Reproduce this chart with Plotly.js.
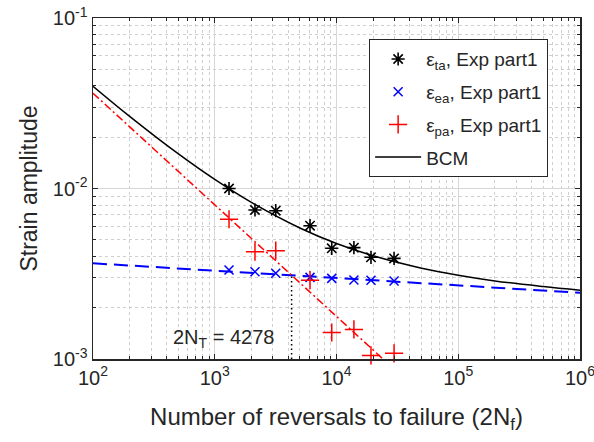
<!DOCTYPE html>
<html>
<head>
<meta charset="utf-8">
<script src="https://cdn.plot.ly/plotly-3.0.1.min.js"></script>
<style>
  html, body { margin: 0; padding: 0; background: #ffffff; }
  #plot { width: 594px; height: 442px; }
</style>
</head>
<body>
<div id="plot"></div>
<script>
// Experimental fatigue data (part 1): reversals to failure and strain amplitudes
const reversals = [1310, 2140, 3170, 6060, 9140, 13900, 19200, 29700];
const totalStrain = [0.0100, 0.00748, 0.00741, 0.00605, 0.00446, 0.00450, 0.00395, 0.00389];
const elasticStrain = [0.00333, 0.00325, 0.00318, 0.00301, 0.00297, 0.00291, 0.00290, 0.00287];
const plasticStrain = [0.00660, 0.00426, 0.00432, 0.00290, 0.00143, 0.00149, 0.00105, 0.00108];

// Fitted lines: Basquin (elastic), Coffin-Manson (plastic) and their sum (BCM)
const elasticFitN = [100, 1e6];
const elasticFit = [0.003641, 0.002447];
const plasticFitN = [100, 30000];
const plasticFit = [0.0362, 0.000866];
const bcmN = [100, 200, 500, 1000, 2000, 5000, 1e4, 2e4, 5e4, 1e5, 2e5, 5e5, 1e6];
const bcmStrain = [0.0398, 0.0265, 0.0160, 0.0113, 0.00829, 0.00587, 0.00476, 0.00403,
                   0.00341, 0.00310, 0.00287, 0.00266, 0.00253];

// Transition life where elastic and plastic lines cross
const transitionN = 4278;
const transitionStrain = 0.0031;
const axisFloor = 0.001;

// Axis ticks
const xTickVals = [1e2, 1e3, 1e4, 1e5, 1e6];
const xTickText = ['10<sup>2</sup>', '10<sup>3</sup>', '10<sup>4</sup>', '10<sup>5</sup>', '10<sup>6</sup>'];
const yTickVals = [1e-3, 1e-2, 1e-1];
const yTickText = ['10<sup>-3</sup>', '10<sup>-2</sup>', '10<sup>-1</sup>'];

// Minor ticks/grid at 2..9 within each decade
function minorTicks(decades) {
  const out = [];
  decades.forEach(function (d) {
    for (let k = 2; k <= 9; k++) out.push(k * d);
  });
  return out;
}

const FONT = 'Liberation Sans, Arial, Helvetica, sans-serif';
const INK = '#262626';

const traces = [
  {
    x: elasticFitN, y: elasticFit, mode: 'lines', showlegend: false,
    line: { color: '#0000ff', width: 2, dash: '14px,7px' }, hoverinfo: 'skip'
  },
  {
    x: plasticFitN, y: plasticFit, mode: 'lines', showlegend: false,
    line: { color: '#ff0000', width: 1.5, dash: '8px,3px,2px,3px' }, hoverinfo: 'skip'
  },
  {
    x: [transitionN, transitionN], y: [axisFloor, transitionStrain], mode: 'lines', showlegend: false,
    line: { color: '#000000', width: 1.5, dash: '1.5px,3px' }, hoverinfo: 'skip'
  },
  {
    x: bcmN, y: bcmStrain, mode: 'lines', name: 'BCM', legendrank: 4, legendgroup: 'g4',
    line: { color: '#000000', width: 1.5, shape: 'spline' }
  },
  {
    x: reversals, y: totalStrain, mode: 'markers', name: 'ε<sub>ta</sub>, Exp part1', legendrank: 1,
    legendgroup: 'g1', cliponaxis: false,
    marker: { symbol: 'asterisk-open', size: 11, color: '#000000', line: { color: '#000000', width: 1.6 } }
  },
  {
    x: reversals, y: elasticStrain, mode: 'markers', name: 'ε<sub>ea</sub>, Exp part1', legendrank: 2,
    legendgroup: 'g2', cliponaxis: false,
    marker: { symbol: 'x-thin-open', size: 9, color: '#0000ff', line: { color: '#0000ff', width: 1.5 } }
  },
  {
    x: reversals, y: plasticStrain, mode: 'markers', name: 'ε<sub>pa</sub>, Exp part1', legendrank: 3,
    legendgroup: 'g3', cliponaxis: false,
    marker: { symbol: 'cross-thin-open', size: 13, color: '#ff0000', line: { color: '#ff0000', width: 1.5 } }
  }
];

function axisBase(minorVals) {
  return {
    type: 'log',
    showline: true, linecolor: INK, linewidth: 1.5, mirror: 'ticks',
    ticks: 'inside', ticklen: 5, tickcolor: INK, tickwidth: 1,
    showgrid: true, gridcolor: '#d6d6d6', gridwidth: 1,
    zeroline: false,
    tickfont: { family: FONT, size: 20, color: INK },
    tickmode: 'array',
    ticklabeloverflow: 'allow',
    minor: {
      tickmode: 'array', tickvals: minorVals,
      ticks: 'inside', ticklen: 3, tickcolor: INK,
      showgrid: true, gridcolor: '#cfcfcf', griddash: '3px,3px', gridwidth: 1
    }
  };
}

const layout = {
  width: 594, height: 442,
  margin: { l: 93, r: 14, t: 18, b: 83 },
  paper_bgcolor: '#ffffff', plot_bgcolor: '#ffffff',
  font: { family: FONT, color: INK },
  showlegend: true,
  xaxis: Object.assign(axisBase(minorTicks([1e2, 1e3, 1e4, 1e5])), {
    range: [2, 6], tickvals: xTickVals, ticktext: xTickText,
    title: { text: 'Number of reversals to failure (2N<sub>f</sub>)', font: { family: FONT, size: 24, color: INK }, standoff: 20 }
  }),
  yaxis: Object.assign(axisBase(minorTicks([1e-3, 1e-2])), {
    range: [-3, -1], tickvals: yTickVals, ticktext: yTickText,
    title: { text: 'Strain amplitude', font: { family: FONT, size: 23, color: INK }, standoff: 8 }
  }),
  legend: {
    x: 0.567, y: 0.938, xanchor: 'left', yanchor: 'top',
    bgcolor: '#ffffff', bordercolor: INK, borderwidth: 1,
    font: { family: FONT, size: 19, color: INK },
    itemwidth: 46, tracegroupgap: 5
  },
  annotations: [{
    xref: 'paper', yref: 'paper', x: 0.267, y: 0.059, xanchor: 'center', yanchor: 'middle',
    text: '2N<sub>T</sub> = 4278', showarrow: false,
    font: { family: FONT, size: 20, color: INK }
  }]
};

Plotly.newPlot('plot', traces, layout, { displayModeBar: false, staticPlot: true });
</script>
</body>
</html>
